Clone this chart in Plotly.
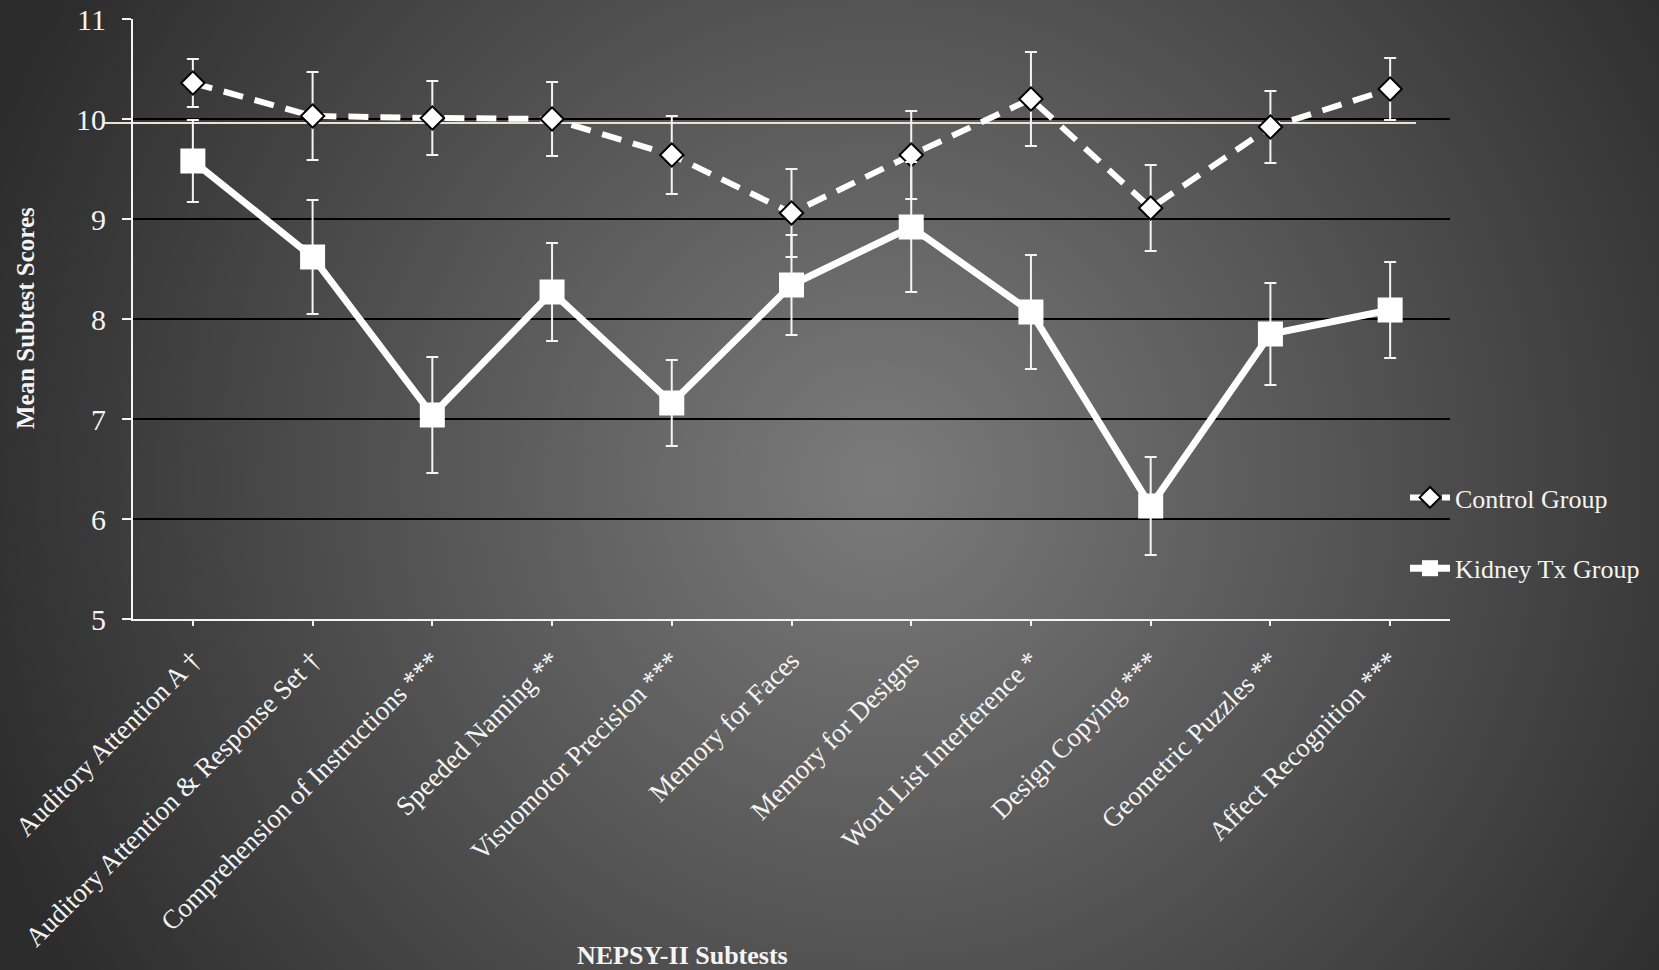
import base64
import plotly.graph_objects as go

categories = [
    "Auditory Attention A †",
    "Auditory Attention & Response Set †",
    "Comprehension of Instructions ***",
    "Speeded Naming **",
    "Visuomotor Precision ***",
    "Memory for Faces",
    "Memory for Designs",
    "Word List Interference *",
    "Design Copying ***",
    "Geometric Puzzles **",
    "Affect Recognition ***",
]
control_mean = [10.36, 10.03, 10.01, 10.00, 9.64, 9.06, 9.64, 10.20, 9.11, 9.92, 10.30]
control_err = [0.24, 0.44, 0.37, 0.37, 0.39, 0.44, 0.44, 0.47, 0.43, 0.36, 0.31]
kidney_mean = [9.58, 8.62, 7.04, 8.27, 7.16, 8.34, 8.92, 8.07, 6.13, 7.85, 8.09]
kidney_err = [0.41, 0.57, 0.58, 0.49, 0.43, 0.50, 0.65, 0.57, 0.49, 0.51, 0.48]
reference_line = 9.96

W, H = 1659, 970
ML, MR, MT, MB = 133, 209, 19, 351
PW, PH = W - ML - MR, H - MT - MB

FONT = "Liberation Serif, Times New Roman, serif"
WHITE = "#f4f4f4"

svg = f'''<svg xmlns="http://www.w3.org/2000/svg" width="{W}" height="{H}">
<defs><radialGradient id="g" gradientUnits="userSpaceOnUse" cx="880" cy="480" r="950">
<stop offset="0" stop-color="#7b7b7b"/><stop offset="1" stop-color="#2c2c2c"/></radialGradient></defs>
<rect x="0" y="0" width="{W}" height="{H}" fill="url(#g)"/></svg>'''
bg_uri = "data:image/svg+xml;base64," + base64.b64encode(svg.encode()).decode()

fig = go.Figure()
fig.add_trace(go.Scatter(
    x=categories, y=control_mean, name="Control Group", legendgroup="c",
    mode="lines+markers",
    line=dict(color="white", width=6, dash="20px,12px"),
    marker=dict(symbol="diamond", size=18, color="white", line=dict(color="black", width=2)),
    error_y=dict(type="data", array=control_err, color=WHITE, thickness=2, width=6),
))
fig.add_trace(go.Scatter(
    x=categories, y=kidney_mean, name="Kidney Tx Group", legendgroup="k",
    mode="lines+markers",
    line=dict(color="white", width=7),
    marker=dict(symbol="square", size=25, color="white"),
    error_y=dict(type="data", array=kidney_err, color=WHITE, thickness=2, width=6),
))

fig.add_shape(type="line", xref="paper", yref="y",
              x0=(103 - ML) / PW, x1=(1416 - ML) / PW, y0=reference_line, y1=reference_line,
              line=dict(color="#e6e2d4", width=2), layer="below")

fig.add_layout_image(dict(
    source=bg_uri, xref="paper", yref="paper",
    x=-ML / PW, y=1 + MT / PH, sizex=W / PW, sizey=H / PH,
    xanchor="left", yanchor="top", sizing="stretch", layer="below",
))

fig.add_annotation(text="<b>Mean Subtest Scores</b>", xref="paper", yref="paper",
                   x=(25 - ML) / PW, y=(MT + PH - 318) / PH, textangle=-90,
                   showarrow=False, font=dict(family=FONT, size=25, color=WHITE),
                   xanchor="center", yanchor="middle")
fig.add_annotation(text="<b>NEPSY-II Subtests</b>", xref="paper", yref="paper",
                   x=(682 - ML) / PW, y=(MT + PH - 955) / PH,
                   showarrow=False, font=dict(family=FONT, size=26, color=WHITE),
                   xanchor="center", yanchor="middle")

fig.update_layout(
    width=W, height=H,
    margin=dict(l=ML, r=MR, t=MT, b=MB, pad=0, autoexpand=False),
    paper_bgcolor="#3a3a3a", plot_bgcolor="rgba(0,0,0,0)",
    font=dict(family=FONT, color=WHITE),
    showlegend=True,
    legend=dict(x=(1405 - ML) / PW, y=(MT + PH - 474) / PH, xanchor="left", yanchor="top",
                bgcolor="rgba(0,0,0,0)", font=dict(family=FONT, size=26, color=WHITE),
                tracegroupgap=34, itemwidth=40),
)
fig.update_xaxes(
    type="category", range=[-0.5, 10.5], tickangle=-45, automargin=False,
    showgrid=False, zeroline=False,
    showline=True, linecolor=WHITE, linewidth=2,
    ticks="outside", ticklen=5, tickcolor=WHITE, tickwidth=2, ticklabelstandoff=8,
    tickfont=dict(family=FONT, size=27, color=WHITE),
)
fig.update_yaxes(
    range=[5, 11], dtick=1, tick0=5, automargin=False,
    showgrid=True, gridcolor="black", gridwidth=2, zeroline=False,
    showline=True, linecolor=WHITE, linewidth=2,
    ticks="outside", ticklen=9, tickcolor=WHITE, tickwidth=2, ticklabelstandoff=10,
    tickfont=dict(family=FONT, size=30, color=WHITE),
)

fig.write_html("out.html")
